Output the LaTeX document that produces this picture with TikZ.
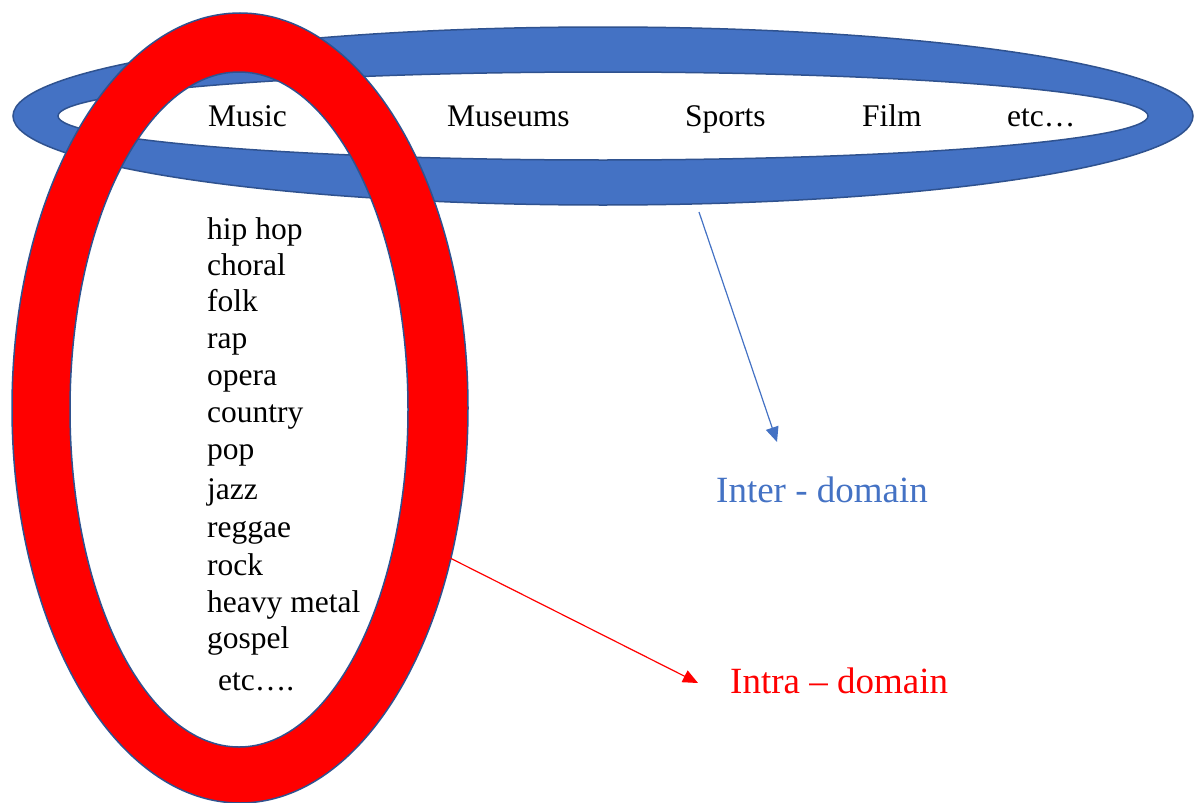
\documentclass[tikz,border=0pt]{standalone}
\usepackage{fontspec}
\setmainfont{Liberation Serif}
\usetikzlibrary{arrows.meta}

\definecolor{ringblue}{HTML}{4472C4}
\definecolor{ringedge}{HTML}{2F528F}
\definecolor{ringred}{HTML}{FF0000}

\begin{document}
\begin{tikzpicture}[x=1pt, y=-1pt,
    ring/.style={draw=ringedge, line width=1.5pt, even odd rule},
    word/.style={anchor=base west, inner sep=0pt, font=\fontsize{31.5}{36}\selectfont},
    tag/.style={anchor=base west, inner sep=0pt, font=\fontsize{37}{42}\selectfont},
    pointer/.style={line width=1.2pt, -{Triangle[length=15pt, width=13pt]}}]
    \useasboundingbox (0, 0) rectangle (1200, 803);

    \path[ring, fill=ringblue] (603, 116) ellipse [x radius=590, y radius=89] (603, 116) ellipse [x radius=545, y radius=44];
    \path[ring, fill=ringred] (240, 408) ellipse [x radius=228, y radius=395] (239, 409.5) ellipse [x radius=169, y radius=337.5];

    \node[word] (music) at (208, 126) {Music};
    \node[word] (museums) at (447, 126) {Museums};
    \node[word] (sports) at (685, 126) {Sports};
    \node[word] (film) at (862, 126) {Film};
    \node[word] (etcdomain) at (1007, 126) {etc…};

    \node[word] (hiphop) at (207, 239) {hip hop};
    \node[word] (choral) at (207, 275) {choral};
    \node[word] (folk) at (207, 311) {folk};
    \node[word] (rap) at (207, 348) {rap};
    \node[word] (opera) at (207, 385) {opera};
    \node[word] (country) at (207, 422) {country};
    \node[word] (pop) at (207, 459) {pop};
    \node[word] (jazz) at (207, 499) {jazz};
    \node[word] (reggae) at (207, 537) {reggae};
    \node[word] (rock) at (207, 575) {rock};
    \node[word] (heavymetal) at (207, 612) {heavy metal};
    \node[word] (gospel) at (207, 648) {gospel};
    \node[word] (etcgenre) at (218, 690) {etc….};

    \node[tag, text=ringblue] (inter) at (716, 502) {Inter - domain};
    \node[tag, text=ringred] (intra) at (730, 693) {Intra – domain};

    \coordinate (intertail) at (699, 212);
    \coordinate (intertip) at (777, 442);
    \coordinate (intratail) at (450, 558);
    \coordinate (intratip) at (698, 683);

    \draw[pointer, ringblue] (intertail) -- (intertip);
    \draw[pointer, ringred] (intratail) -- (intratip);
\end{tikzpicture}
\end{document}
